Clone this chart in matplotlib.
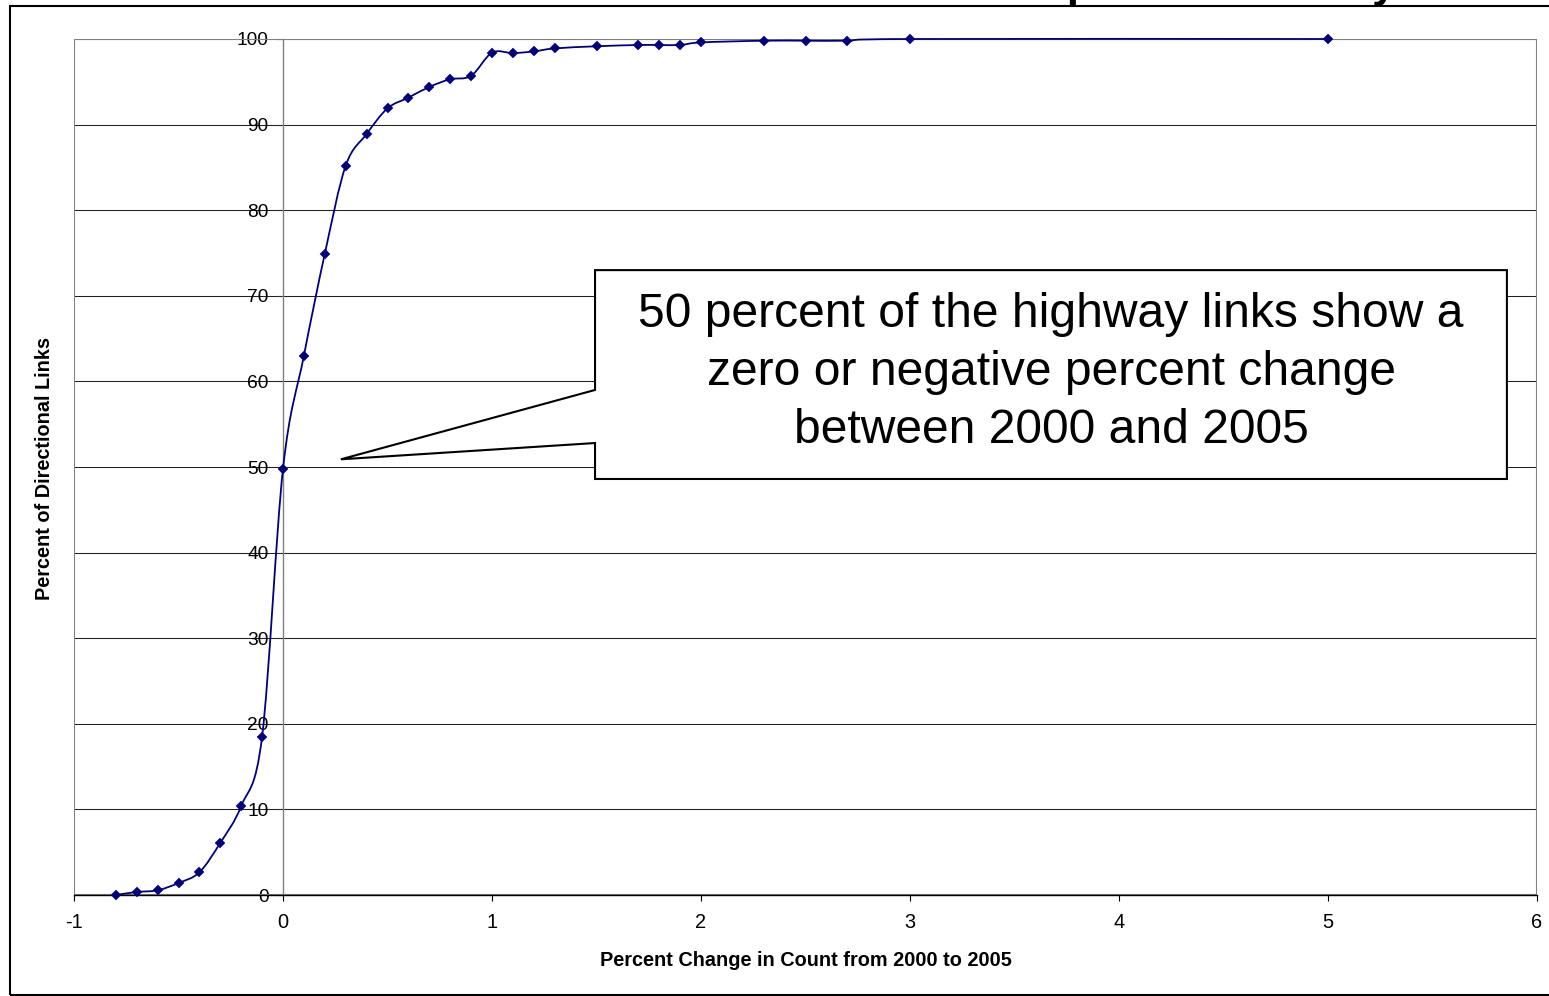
import numpy as np
import matplotlib
matplotlib.use("Agg")
import matplotlib.pyplot as plt
from matplotlib.path import Path
from matplotlib.patches import PathPatch, Polygon, Rectangle

plt.rcParams['font.family'] = ['Liberation Sans', 'DejaVu Sans']
plt.rcParams['axes.unicode_minus'] = False

# Cumulative distribution of link count changes
pct_change = [-0.8, -0.7, -0.6, -0.5, -0.4, -0.3, -0.2, -0.1, 0.0, 0.1,
              0.2, 0.3, 0.4, 0.5, 0.6, 0.7, 0.8, 0.9, 1.0, 1.1,
              1.2, 1.3, 1.5, 1.7, 1.8, 1.9, 2.0, 2.3, 2.5, 2.7,
              3.0, 5.0]
cum_pct = [0.0, 0.35, 0.55, 1.4, 2.65, 6.1, 10.4, 18.5, 49.8, 63.0,
           74.9, 85.2, 88.9, 91.9, 93.15, 94.4, 95.3, 95.7, 98.4, 98.35,
           98.55, 98.9, 99.15, 99.3, 99.3, 99.3, 99.6, 99.8, 99.8, 99.8,
           100.0, 100.0]
x_ticks = [-1, 0, 1, 2, 3, 4, 5, 6]
y_ticks = [0, 10, 20, 30, 40, 50, 60, 70, 80, 90, 100]

title_text = "Count Comparison of Daily Volumes"
x_label = "Percent Change in Count from 2000 to 2005"
y_label = "Percent of Directional Links"
note_text = ("50 percent of the highway links show a\n"
             "zero or negative percent change\n"
             "between 2000 and 2005")

NAVY = "#000080"
W, H = 1549, 996


def smooth_path(x, y):
    """Cubic Bezier spline through every point (smoothed line)."""
    pts = np.column_stack([x, y]).astype(float)
    n = len(pts)
    verts = [pts[0]]
    codes = [Path.MOVETO]
    for i in range(n - 1):
        p0 = pts[i - 1] if i > 0 else pts[i]
        p1 = pts[i]
        p2 = pts[i + 1]
        p3 = pts[i + 2] if i + 2 < n else pts[i + 1]
        c1 = p1 + (p2 - p0) / 6.0
        c2 = p2 - (p3 - p1) / 6.0
        verts += [c1, c2, p2]
        codes += [Path.CURVE4] * 3
    return Path(verts, codes)


fig = plt.figure(figsize=(W / 100, H / 100), dpi=100)
fig.patch.set_facecolor("white")

ax = fig.add_axes([74 / W, (H - 895) / H, (1537 - 74) / W, (895 - 39) / H])
ax.set_xlim(x_ticks[0], x_ticks[-1])
ax.set_ylim(y_ticks[0], y_ticks[-1])
ax.set_xticks(x_ticks)
ax.set_yticks(y_ticks)

# horizontal gridlines
ax.set_axisbelow(True)
ax.yaxis.grid(True, color="#202020", lw=0.75)
ax.xaxis.grid(False)

# plot-area frame
for s in ("top", "right"):
    ax.spines[s].set_visible(False)
ax.add_patch(Rectangle((0, 0), 1, 1, transform=ax.transAxes, fill=False,
                       ec="#808080", lw=1.5, zorder=1))
ax.spines["left"].set_position(("data", 0))
ax.spines["left"].set_color("#808080")
ax.spines["left"].set_linewidth(1.0)
ax.spines["bottom"].set_color("black")
ax.spines["bottom"].set_linewidth(1.0)

ax.tick_params(axis="x", direction="out", length=4.3, width=0.8,
               color="black", labelsize=14.4, pad=9)
ax.tick_params(axis="y", direction="out", length=4.3, width=0.8,
               color="#303030", labelsize=13.8, pad=6)

# smoothed cumulative curve with diamond markers
curve = PathPatch(smooth_path(pct_change, cum_pct), fill=False, ec=NAVY,
                  lw=1.3, zorder=3, clip_on=False)
ax.add_patch(curve)
ax.plot(pct_change, cum_pct, linestyle="none", marker="D", ms=5.2,
        color=NAVY, mec=NAVY, mew=0.3, zorder=4, clip_on=False)

# callout box
callout = Polygon([(1.493, 73.0), (5.856, 73.0), (5.856, 48.6),
                   (1.493, 48.6), (1.493, 52.8), (0.277, 50.9),
                   (1.493, 59.0)], closed=True, fc="white", ec="black",
                  lw=1.5, zorder=5, joinstyle="miter")
ax.add_patch(callout)
ax.text(3.675, 52.75, note_text, fontsize=34.6, ha="center", va="baseline",
        multialignment="center", linespacing=1.385, zorder=6)

# axis titles
fig.text(805.5 / W, 1 - 960 / H, x_label, fontsize=14.3, fontweight="bold",
         ha="center", va="center")
fig.text(44.5 / W, 1 - 468 / H, y_label, fontsize=14.3, fontweight="bold",
         ha="center", va="center", rotation=90)

# chart title (sits above the chart frame)
fig.text(830 / W, 1 + 3 / H, title_text, fontsize=31.7, fontweight="bold",
         ha="left", va="baseline")

# chart-area border
fig.add_artist(Rectangle((10 / W, 1 - 995 / H), (1600 - 10) / W,
                         (995 - 6.5) / H, transform=fig.transFigure,
                         fill=False, ec="black", lw=1.5, clip_on=False))

fig.savefig("out.png", dpi=100, facecolor="white")
